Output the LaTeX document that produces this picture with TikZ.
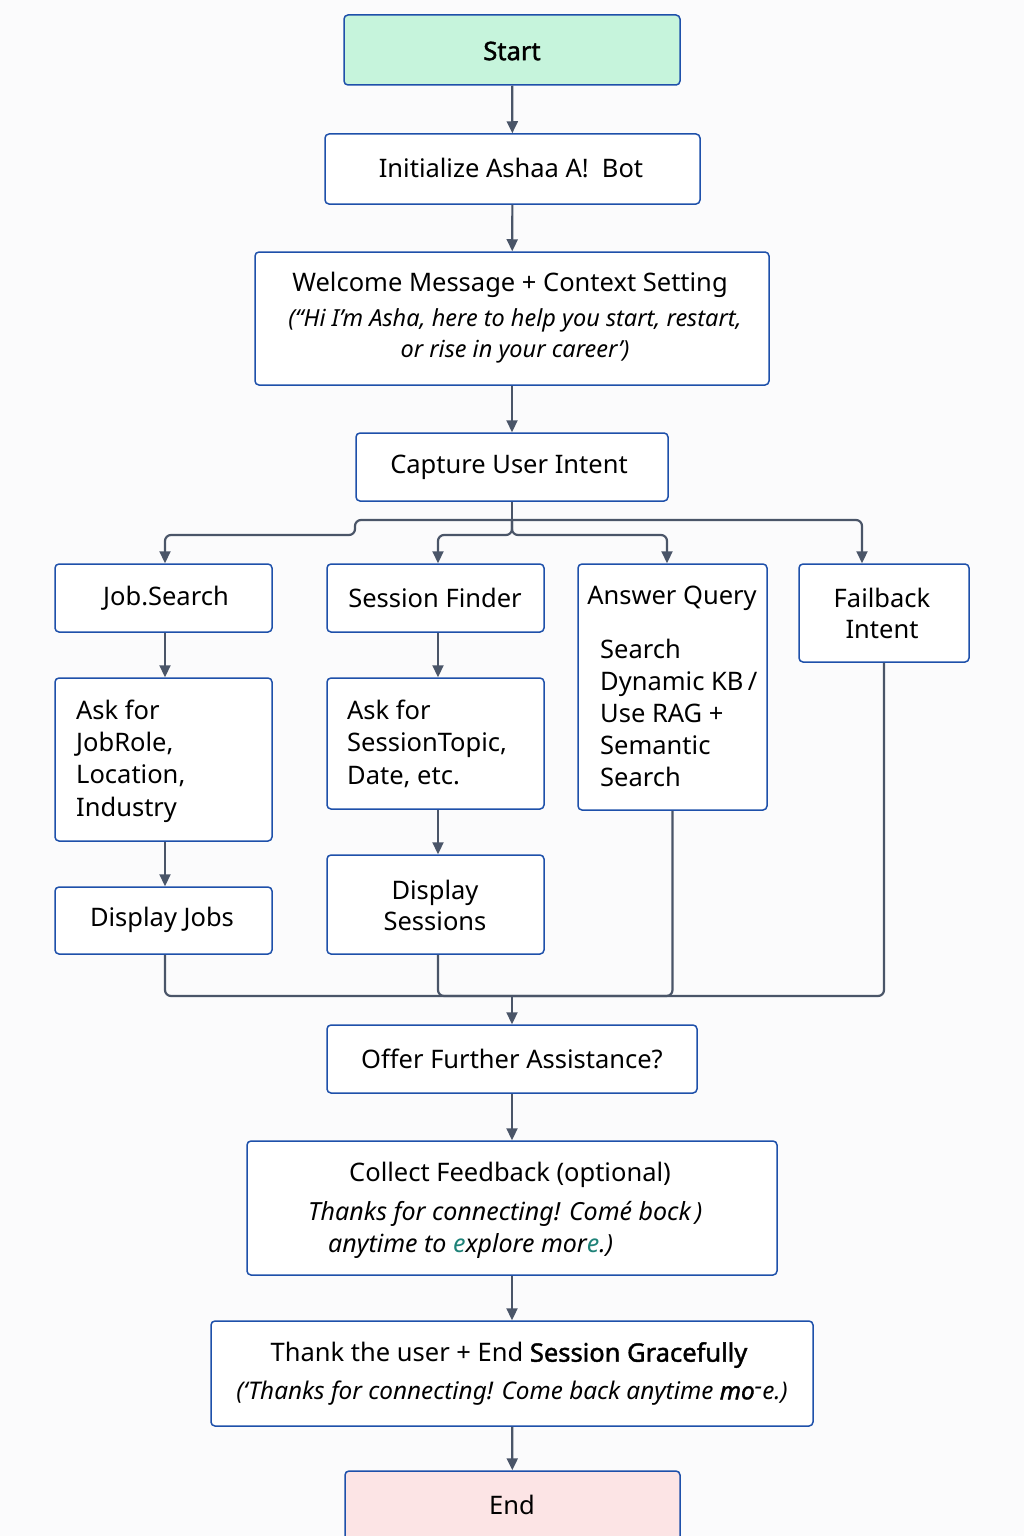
\documentclass[tikz,border=0pt]{standalone}
\usepackage{fontspec}
\setmainfont{Noto Sans}
\newfontfamily\fbold{Noto Sans}[FakeBold=1.6]
\usetikzlibrary{arrows.meta,calc}
\definecolor{bordc}{RGB}{30,80,170}
\definecolor{linec}{RGB}{74,85,104}
\definecolor{startf}{RGB}{198,244,220}
\definecolor{endf}{RGB}{252,228,229}
\definecolor{tealc}{RGB}{30,130,120}
\tikzset{
  box/.style={draw=bordc, line width=1.5pt, rounded corners=4pt, fill=white, inner sep=0pt},
  lbl/.style={inner sep=0pt, font=\fontsize{25.5}{31}\selectfont, align=center},
  ilbl/.style={inner sep=0pt, font=\fontsize{23.5}{31}\selectfont\itshape, align=center},
  conn/.style={draw=linec, line width=2.2pt, rounded corners=6pt},
  arr/.style={conn, -{Triangle[length=12pt,width=11pt]}}
}
\begin{document}
\begin{tikzpicture}[x=1pt,y=-1pt]
\useasboundingbox[fill={rgb,255:red,251;green,251;blue,252}] (0,0) rectangle (1024,1536);
% boxes
\node[box, fill=startf, minimum width=336, minimum height=70] (start) at (512,50) {};
\node[box, minimum width=375, minimum height=70] (init) at (512.5,169) {};
\node[box, minimum width=514, minimum height=133] (welcome) at (512,318.5) {};
\node[box, minimum width=312, minimum height=68] (capture) at (512,467) {};
\node[box, minimum width=217, minimum height=68] (jobsearch) at (163.5,598) {};
\node[box, minimum width=217, minimum height=68] (sessfind) at (435.5,598) {};
\node[box, minimum width=189, minimum height=246] (answer) at (672.5,687) {};
\node[box, minimum width=170, minimum height=98] (failback) at (884,613) {};
\node[box, minimum width=217, minimum height=163] (askjob) at (163.5,759.5) {};
\node[box, minimum width=217, minimum height=131] (asksess) at (435.5,743.5) {};
\node[box, minimum width=217, minimum height=67] (dispjobs) at (163.5,920.5) {};
\node[box, minimum width=217, minimum height=99] (dispsess) at (435.5,904.5) {};
\node[box, minimum width=370, minimum height=68] (offer) at (512,1059) {};
\node[box, minimum width=530, minimum height=134] (collect) at (512,1208) {};
\node[box, minimum width=602, minimum height=105] (thank) at (512,1373.5) {};
\node[box, fill=endf, minimum width=335, minimum height=120] (endn) at (512.5,1531) {};
% texts
\node[lbl] (tstart) at (512,51) {\fbold Start};
\node[lbl] (tinit) at (511,168) {Initialize Ashaa A!\ \ Bot};
\node[lbl] (twel1) at (510,285) {Welcome Message + Context Setting};
\node[ilbl] (twel2) at (515,336) {(\char"201CHi I’m Asha, here to help you start, restart,\\or rise in your career')};
\node[lbl] (tcap) at (509,467) {Capture User Intent};
\node[lbl] (tjob) at (166,598) {Job.Search};
\node[lbl] (tsf) at (435,598) {Session Finder};
\node[lbl] (taq) at (672,598) {Answer Query};
\node[lbl, align=left, anchor=base west, font=\fontsize{25.5}{32}\selectfont] (taq2) at (600,786) {Search\\Dynamic KB\,/\\Use RAG +\\Semantic\\Search};
\node[lbl, font=\fontsize{25.5}{31}\selectfont] (tfb) at (882,613) {Failback\\Intent};
\node[lbl, align=left, anchor=base west, font=\fontsize{25.5}{32.3}\selectfont] (taj) at (76,816) {Ask for\\JobRole,\\Location,\\Industry};
\node[lbl, align=left, anchor=base west, font=\fontsize{25.5}{32.3}\selectfont] (tas) at (347,784) {Ask for\\SessionTopic,\\Date, etc.};
\node[lbl] (tdj) at (162,920) {Display Jobs};
\node[lbl, font=\fontsize{25.5}{31}\selectfont] (tds) at (435,905) {Display\\Sessions};
\node[lbl] (toff) at (512,1059) {Offer Further Assistance?};
\node[lbl] (tcol1) at (510,1175) {Collect Feedback (optional)};
\node[ilbl, anchor=base west, font=\fontsize{25}{31}\selectfont\itshape] (tcol2) at (308,1220) {Thanks for connecting! Comé bock\,)};
\node[ilbl, anchor=base west, font=\fontsize{25}{31}\selectfont\itshape] (tcol3) at (328,1252) {anytime to {\color{tealc}e}xplore mor{\color{tealc}e}.)};
\node[lbl] (tth1) at (509,1355) {Thank the user + End {\fbold Session Gracefully}};
\node[ilbl, font=\fontsize{24.3}{31}\selectfont\itshape] (tth2) at (512,1393) {(‘Thanks for connecting! Come back anytime {\fbold\itshape mo}\raisebox{0.35ex}{-}e.)};
\node[lbl] (tend) at (512,1505) {End};
% connectors
\draw[arr] (start) -- (init);
\draw[arr] (init) -- (welcome);
\draw[arr] (welcome) -- (capture);
\coordinate (bus) at (512,520);
\coordinate (bus2) at (512,535);
\draw[conn] (capture.south) -- (bus);
\draw[arr] (bus) -- (355,520) -- (355,535) -- ([xshift=1.5pt]jobsearch.north |- bus2) -- ([xshift=1.5pt]jobsearch.north);
\draw[arr] (bus) -- (bus2) -- ([xshift=2.5pt]sessfind.north |- bus2) -- ([xshift=2.5pt]sessfind.north);
\draw[arr] (bus) -- (bus2) -- ([xshift=-5.5pt]answer.north |- bus2) -- ([xshift=-5.5pt]answer.north);
\draw[arr] (bus) -- ([xshift=-22pt]failback.north |- bus) -- ([xshift=-22pt]failback.north);
\draw[arr] ([xshift=1.5pt]jobsearch.south) -- ([xshift=1.5pt]askjob.north);
\draw[arr] ([xshift=1.5pt]askjob.south) -- ([xshift=1.5pt]dispjobs.north);
\draw[arr] ([xshift=2.5pt]sessfind.south) -- ([xshift=2.5pt]asksess.north);
\draw[arr] ([xshift=2.5pt]asksess.south) -- ([xshift=2.5pt]dispsess.north);
\coordinate (merge) at (512,996);
\draw[conn] ([xshift=1.5pt]dispjobs.south) -- ([xshift=1.5pt]dispjobs.south |- merge) -- (failback.south |- merge) -- (failback.south);
\draw[conn] ([xshift=2.5pt]dispsess.south) -- ([xshift=2.5pt]dispsess.south |- merge) -- (merge);
\draw[conn] (answer.south) -- (answer.south |- merge) -- (merge);
\draw[arr] (merge) -- (offer);
\draw[arr] (offer) -- (collect);
\draw[arr] (collect) -- (thank);
\draw[arr] (thank) -- (endn);
\end{tikzpicture}
\end{document}
